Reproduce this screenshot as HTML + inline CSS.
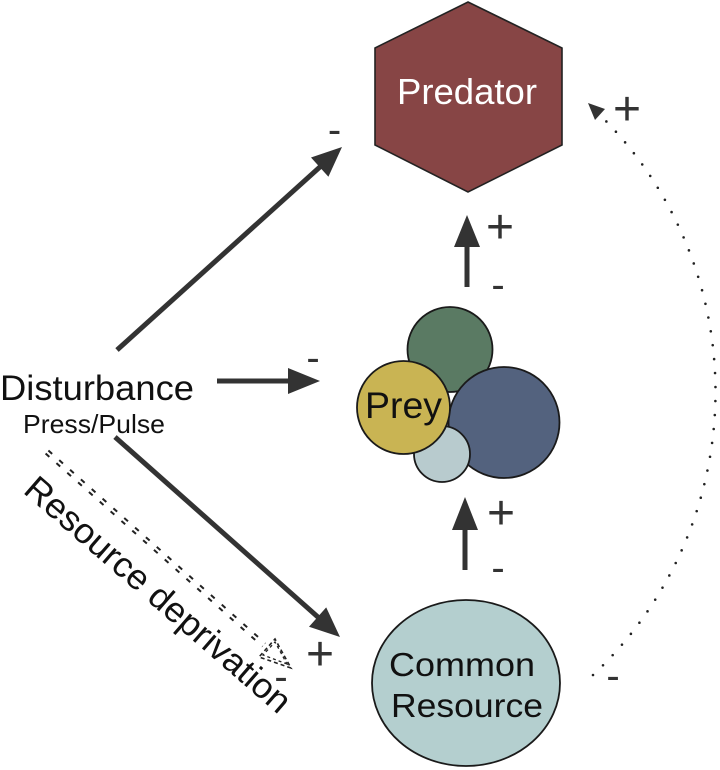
<!DOCTYPE html>
<html>
<head>
<meta charset="utf-8">
<style>
html,body{margin:0;padding:0;background:#fff;}
svg{display:block;}
text{font-family:"Liberation Sans",Arial,sans-serif;}
</style>
</head>
<body>
<svg width="720" height="770" viewBox="0 0 720 770" xmlns="http://www.w3.org/2000/svg">
  <rect width="720" height="770" fill="#fff"/>

  <!-- Predator hexagon -->
  <polygon points="468,2 562,48 562,145 468,192 375,145 375,48" fill="#874545" stroke="#222" stroke-width="1.6"/>
  <text x="467" y="104" font-size="36" fill="#fff" text-anchor="middle" textLength="140" lengthAdjust="spacingAndGlyphs">Predator</text>

  <!-- Prey circles -->
  <circle cx="450" cy="349.5" r="42.5" fill="#5a7a63" stroke="#1a1a1a" stroke-width="1.8"/>
  <circle cx="504" cy="422.5" r="55.5" fill="#53627e" stroke="#1a1a1a" stroke-width="1.8"/>
  <circle cx="442" cy="454" r="28" fill="#b8cbce" stroke="#1a1a1a" stroke-width="1.8"/>
  <circle cx="403.5" cy="407.5" r="46.5" fill="#c9b453" stroke="#1a1a1a" stroke-width="1.8"/>
  <text x="403.5" y="418" font-size="37" fill="#111" text-anchor="middle" textLength="77" lengthAdjust="spacingAndGlyphs">Prey</text>

  <!-- Common Resource -->
  <ellipse cx="466" cy="683" rx="94" ry="83" fill="#b4cfcf" stroke="#1a1a1a" stroke-width="1.8"/>
  <text x="462" y="676" font-size="33" fill="#111" text-anchor="middle" textLength="146" lengthAdjust="spacingAndGlyphs">Common</text>
  <text x="467" y="717" font-size="33" fill="#111" text-anchor="middle" textLength="152" lengthAdjust="spacingAndGlyphs">Resource</text>

  <!-- Disturbance -->
  <text x="0" y="400" font-size="35" fill="#111" textLength="194" lengthAdjust="spacingAndGlyphs">Disturbance</text>
  <text x="23" y="433" font-size="26" fill="#111" textLength="142" lengthAdjust="spacingAndGlyphs">Press/Pulse</text>

  <!-- Arrows -->
  <g fill="#333" stroke="none">
    <line x1="117" y1="350" x2="321" y2="166" stroke="#333" stroke-width="5"/>
    <polygon points="342,147 328.4,176.7 311,157.5"/>
    <line x1="217" y1="381" x2="292" y2="381" stroke="#333" stroke-width="5"/>
    <polygon points="320,381 288,368 288,394"/>
    <line x1="115" y1="437" x2="319" y2="618" stroke="#333" stroke-width="5"/>
    <polygon points="340,637 309,626.8 326.2,607.4"/>
    <line x1="467" y1="287" x2="467" y2="244" stroke="#333" stroke-width="5"/>
    <polygon points="467,215 454,247 480,247"/>
    <line x1="465" y1="570" x2="465" y2="527" stroke="#333" stroke-width="5"/>
    <polygon points="465,497 452,530 478,530"/>
  </g>

  <!-- Dotted arc Resource -> Predator -->
  <path d="M 593,675 A 389 389 0 0 0 601,116" fill="none" stroke="#222" stroke-width="2.6" stroke-linecap="round" stroke-dasharray="0 14"/>
  <polygon points="588,103 605,109 595,120" fill="#333"/>

  <!-- Resource deprivation dashed double line -->
  <g stroke="#222" stroke-width="2" fill="none" stroke-dasharray="5 9.5">
    <line x1="45.6" y1="453.5" x2="262.6" y2="646.5"/>
    <line x1="48.4" y1="450.5" x2="265.4" y2="643.5"/>
  </g>
  <polygon points="291,668 259,657 275,639" fill="none" stroke="#222" stroke-width="1.6" stroke-dasharray="4 3"/>
  <polygon points="287,664 263,655 275,642" fill="none" stroke="#222" stroke-width="1.3" stroke-dasharray="3 3"/>

  <text transform="translate(22,492) rotate(41)" font-size="35" fill="#111" textLength="340" lengthAdjust="spacingAndGlyphs">Resource deprivation</text>

  <!-- Signs -->
  <g fill="#333" font-size="48" text-anchor="middle">
    <text x="627" y="125">+</text>
    <text x="500" y="243">+</text>
    <text x="501" y="529">+</text>
    <text x="320" y="670">+</text>
  </g>
  <g fill="#333" font-size="40" text-anchor="middle">
    <text x="334.5" y="143">-</text>
    <text x="498" y="298">-</text>
    <text x="313" y="371">-</text>
    <text x="498" y="581">-</text>
    <text x="281" y="690">-</text>
    <text x="613" y="689">-</text>
  </g>
</svg>
</body>
</html>
